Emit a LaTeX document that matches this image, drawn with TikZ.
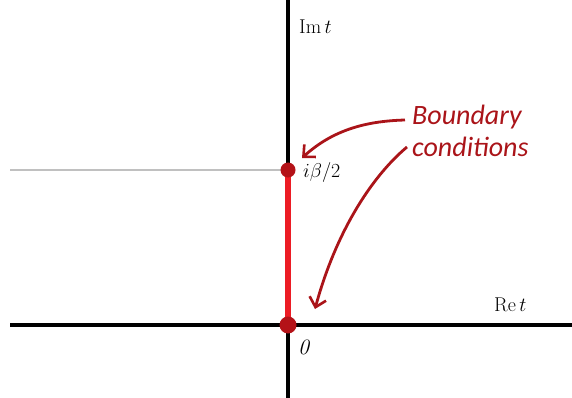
\documentclass[tikz,border=0pt]{standalone}
\usepackage{fix-cm}
\usepackage{fontspec}
\usepackage{amsmath}
\newfontfamily\calibri{Carlito}
\usetikzlibrary{arrows.meta,calc,positioning}
\definecolor{segred}{RGB}{236,28,36}
\definecolor{dotred}{RGB}{180,18,24}
\definecolor{notered}{RGB}{170,20,25}
\definecolor{halfgray}{RGB}{192,192,192}

\begin{document}
\begin{tikzpicture}[
  x=1pt, y=-1pt,
  axis/.style={draw=black, line width=3.2pt},
  dot/.style={circle, fill=dotred, inner sep=0pt, minimum size=#1},
  axlabel/.style={font=\fontsize{20}{22}\selectfont, inner sep=1pt},
  note/.style={font=\calibri\itshape\fontsize{28}{32}\selectfont, text=notered, align=left, inner sep=0pt},
  pointer/.style={-{Straight Barb[length=9pt, width=17pt, line width=2.6pt]}, draw=notered, line width=2.8pt}
]
\useasboundingbox (0,0) rectangle (572,398);

% axes and the strip
\coordinate (origin) at (288,325);
\coordinate (top) at (288,170);
\draw[draw=halfgray, line width=2.8pt] (10,170) -- (top);
\draw[axis] (288,0) -- (288,398);
\draw[axis] (10,325) -- (572,325);
\draw[draw=segred, line width=6pt] (origin) -- (top);
\node[dot=17pt] (p0) at (origin) {};
\node[dot=15pt] (pb) at (top) {};

% labels
\node[axlabel, anchor=base west] (imlab) at (298,34) {$\mathrm{Im}\,t$};
\node[axlabel, anchor=base west] (relab) at (493,311) {$\mathrm{Re}\,t$};
\node[axlabel, anchor=base west] (blab) at (302,178) {$i\beta/2$};
\node[axlabel, anchor=base west, font=\fontsize{22}{24}\selectfont] (zlab) at (297,354) {$\mathit{0}$};
\node[note, anchor=base west] (bc) at (412,157) {Boundary\\conditions};

% pointers
\coordinate (tipb) at (302,158);
\coordinate (tip0) at (315,309);
\draw[pointer] ($(bc.west |- 0,120)+(-7,0)$) .. controls (370,121) and (335,128) .. (tipb);
\draw[pointer] ($(bc.west |- 0,147)+(-5,0)$) .. controls (370,178) and (335,235) .. (tip0);
\end{tikzpicture}
\end{document}
